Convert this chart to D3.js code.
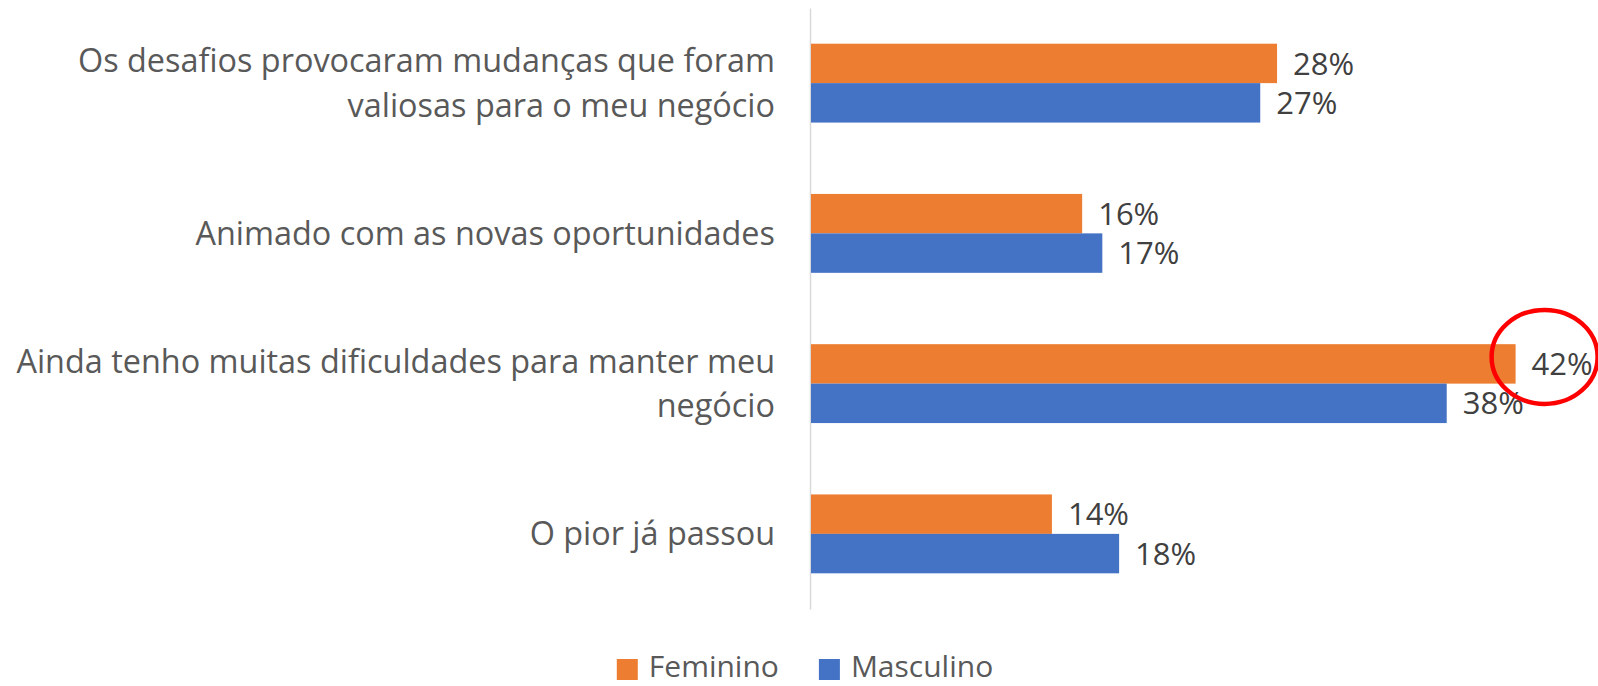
<!DOCTYPE html>
<html>
<head>
<meta charset="utf-8">
<script src="https://cdn.jsdelivr.net/npm/d3@7"></script>
<style>
  body { margin: 0; background: #fff; }
  svg { display: block; font-family: "Open Sans", sans-serif; }
</style>
</head>
<body>
<div class="chart"></div>
<script>
// categories and the two series (shares)
var categories = [
  "Os desafios provocaram mudanças que foram valiosas para o meu negócio",
  "Animado com as novas oportunidades",
  "Ainda tenho muitas dificuldades para manter meu negócio",
  "O pior já passou"
];
var seriesNames = ["Feminino", "Masculino"];
var feminino = [0.278, 0.162, 0.42, 0.144];
var masculino = [0.268, 0.174, 0.379, 0.184];
var seriesColors = ["#ED7D31", "#4472C4"];
var highlight = 2; // "Ainda tenho..." feminino gets the red circle

var width = 1598, height = 686;

var svg = d3.select(".chart").append("svg")
    .attr("width", width)
    .attr("height", height);

var y = d3.scaleBand()
    .domain(categories)
    .range([8, 609])
    .paddingInner(0.475)
    .paddingOuter(0.2375);

var ySub = d3.scaleBand()
    .domain(seriesNames)
    .range([0, y.bandwidth()]);

var x = d3.scaleLinear()
    .domain([0, 0.45])
    .range([810, 810 + 0.45 * 1680]);

var fmt = d3.format(".0%");

// left axis: only the grey line + category labels
var axis = svg.append("g")
    .attr("transform", "translate(" + x(0) + ",0)")
    .call(d3.axisLeft(y).tickSize(0).tickSizeOuter(0).tickPadding(35));

axis.select(".domain").attr("stroke", "#d9d9d9").attr("stroke-width", 1.5);
axis.selectAll(".tick text")
    .attr("fill", "#595959")
    .style("font-size", "32.4px")
    .style("font-family", "'Open Sans', sans-serif")
    .call(wrap, 775);

function wrap(texts, maxWidth) {
  texts.each(function () {
    var text = d3.select(this);
    var words = text.text().split(/\s+/);
    var lines = [], line = [];
    text.text(null);
    var probe = text.append("tspan");
    words.forEach(function (w) {
      line.push(w);
      probe.text(line.join(" "));
      if (probe.node().getComputedTextLength() > maxWidth && line.length > 1) {
        line.pop();
        lines.push(line.join(" "));
        line = [w];
      }
    });
    lines.push(line.join(" "));
    probe.remove();
    var lh = 1.36;
    text.attr("dy", null);
    lines.forEach(function (l, i) {
      text.append("tspan")
          .attr("x", text.attr("x"))
          .attr("dy", i === 0 ? (-(lines.length - 1) / 2 * lh + 0.35) + "em" : lh + "em")
          .text(l);
    });
  });
}

// grouped bars
var rows = categories.map(function (c, i) {
  return { cat: c, vals: [
    { name: seriesNames[0], v: feminino[i], color: seriesColors[0] },
    { name: seriesNames[1], v: masculino[i], color: seriesColors[1] }
  ]};
});

var groups = svg.selectAll("g.group")
    .data(rows)
    .enter().append("g")
    .attr("class", "group")
    .attr("transform", function (d) { return "translate(0," + y(d.cat) + ")"; });

groups.selectAll("rect")
    .data(function (d) { return d.vals; })
    .enter().append("rect")
    .attr("x", x(0) + 1)
    .attr("y", function (d) { return ySub(d.name); })
    .attr("width", function (d) { return x(d.v) - x(0) - 1; })
    .attr("height", ySub.bandwidth())
    .attr("fill", function (d) { return d.color; });

groups.selectAll("text.val")
    .data(function (d) { return d.vals; })
    .enter().append("text")
    .attr("class", "val")
    .attr("x", function (d) { return x(d.v) + 16; })
    .attr("y", function (d) { return ySub(d.name) + ySub.bandwidth() / 2; })
    .attr("dy", "0.36em")
    .attr("fill", "#404040")
    .style("font-size", "31px")
    .text(function (d) { return fmt(d.v); });

// red annotation circle round the 42% label
svg.append("ellipse")
    .attr("cx", x(feminino[highlight]) + 29)
    .attr("cy", y(categories[highlight]) + ySub(seriesNames[0]) + ySub.bandwidth() / 2 - 7)
    .attr("rx", 53)
    .attr("ry", 47)
    .attr("fill", "none")
    .attr("stroke", "#ff0000")
    .attr("stroke-width", 4.5);

// legend
var legend = svg.append("g").attr("class", "legend");
var items = legend.selectAll("g")
    .data(seriesNames)
    .enter().append("g");

items.append("rect")
    .attr("width", 21)
    .attr("height", 21)
    .attr("y", 659)
    .attr("fill", function (d, i) { return seriesColors[i]; });

items.append("text")
    .attr("x", 32)
    .attr("y", 677)
    .attr("fill", "#595959")
    .style("font-size", "30px")
    .text(function (d) { return d; });

var offset = 0, gap = 40;
var widths = [];
items.each(function () {
  widths.push(32 + d3.select(this).select("text").node().getComputedTextLength());
});
var total = d3.sum(widths) + gap * (widths.length - 1);
var start = 805 - total / 2;
items.attr("transform", function (d, i) {
  var tx = start + offset;
  offset += widths[i] + gap;
  return "translate(" + tx + ",0)";
});
</script>
</body>
</html>
